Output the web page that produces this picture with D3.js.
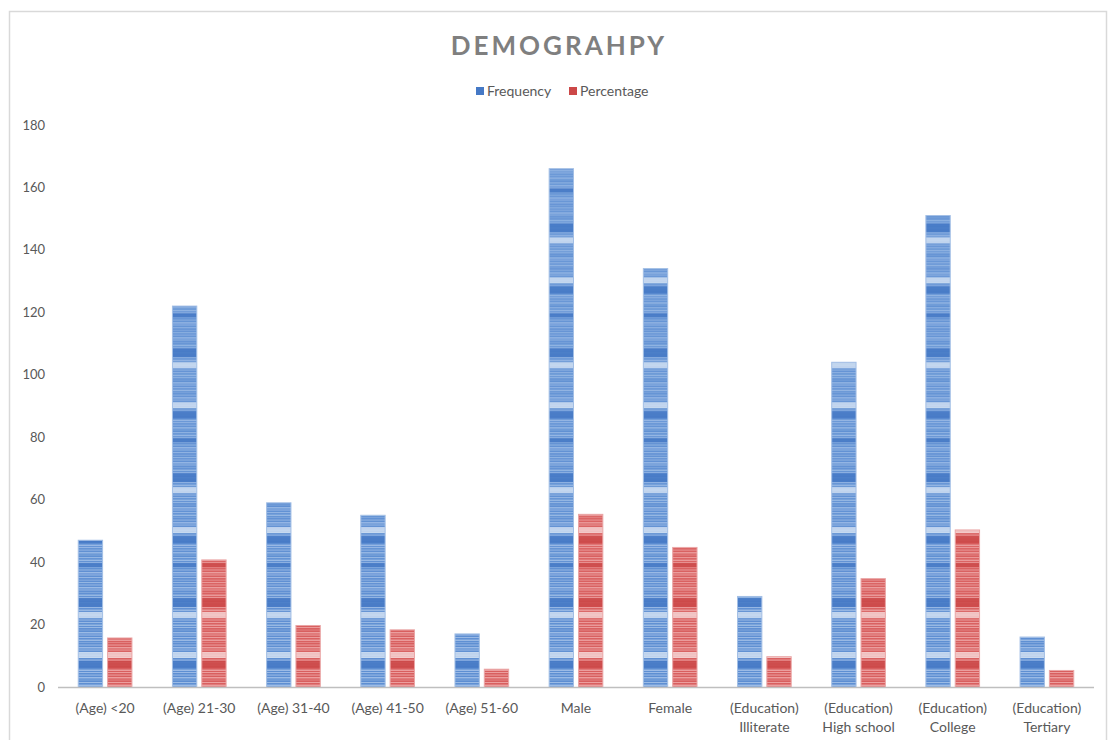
<!DOCTYPE html>
<html>
<head>
<meta charset="utf-8">
<script src="https://cdn.jsdelivr.net/npm/d3@7"></script>
<style>
  html, body { margin: 0; padding: 0; background: #fff; }
  svg { display: block; }
</style>
</head>
<body>
<div id="chart"></div>
<script>
const categories = [
  ['(Age) <20'], ['(Age) 21-30'], ['(Age) 31-40'], ['(Age) 41-50'], ['(Age) 51-60'],
  ['Male'], ['Female'],
  ['(Education)', 'Illiterate'], ['(Education)', 'High school'],
  ['(Education)', 'College'], ['(Education)', 'Tertiary']
];
const frequency  = [47, 122, 59, 55, 17, 166, 134, 29, 104, 151, 16];
const percentage = [15.7, 40.7, 19.7, 18.3, 5.7, 55.3, 44.7, 9.7, 34.7, 50.3, 5.3];
const seriesNames = ['Frequency', 'Percentage'];
const yTicks = [0, 20, 40, 60, 80, 100, 120, 140, 160, 180];

const W = 1109, H = 740;
const font = 'Lato, "Open Sans", sans-serif';
const textCol = '#595959';

const svg = d3.select('#chart').append('svg')
  .attr('width', W).attr('height', H);

// chart border
svg.append('rect')
  .attr('x', 9.5).attr('y', 11.5)
  .attr('width', 1097).attr('height', 760)
  .attr('fill', 'none')
  .attr('stroke', '#d9d9d9')
  .attr('stroke-width', 1.5);

const x0 = d3.scaleBand()
  .domain(d3.range(categories.length))
  .range([58, 1094])
  .paddingInner(0.43)
  .paddingOuter(0.215);

const x1 = d3.scaleBand()
  .domain(seriesNames)
  .range([0, x0.bandwidth()])
  .paddingInner(0.17);

const y = d3.scaleLinear()
  .domain([0, 180])
  .range([687, 125]);

// striped fills, anchored to the baseline, repeating every 40 units
const period = y(0) - y(40);
const defs = svg.append('defs');
const palettes = {
  Frequency:  { base: '#5d8ed2', line: '#aac6ea', dark: '#4579c6', light: '#d6e3f4', edge: '#a3bfe5' },
  Percentage: { base: '#d85e5e', line: '#f0adad', dark: '#cc4848', light: '#f6d8d8', edge: '#eaa6a6' }
};
// bands measured upward from baseline (px)
const bands = [[19, 26, 'dark'], [29, 35, 'light'], [69, 75, 'light'], [80, 89, 'dark'], [120, 124, 'dark']];
seriesNames.forEach(name => {
  const p = palettes[name];
  const pat = defs.append('pattern')
    .attr('id', 'pat-' + name)
    .attr('patternUnits', 'userSpaceOnUse')
    .attr('width', 10).attr('height', period)
    .attr('patternTransform', `translate(0,${y(0)})`);
  pat.append('rect').attr('width', 10).attr('height', period).attr('fill', p.base);
  d3.range(0, period, 2.5).forEach((t, i) => {
    pat.append('rect')
      .attr('y', t).attr('width', 10)
      .attr('height', i % 3 === 1 ? 1.3 : 0.9)
      .attr('fill', p.line)
      .attr('opacity', i % 5 === 2 ? 0.5 : 0.9);
  });
  bands.forEach(([a, b, kind]) => {
    pat.append('rect')
      .attr('y', period - b).attr('width', 10).attr('height', b - a)
      .attr('fill', p[kind]).attr('opacity', kind === 'dark' ? 0.9 : 0.8);
  });
});

// y axis labels (no axis line)
svg.append('g').selectAll('text')
  .data(yTicks)
  .join('text')
  .attr('x', 45)
  .attr('y', d => y(d))
  .attr('dy', '0.35em')
  .attr('text-anchor', 'end')
  .attr('fill', textCol)
  .attr('font-family', font)
  .attr('font-size', 13)
  .text(d => d);

// bars
const groups = svg.append('g').selectAll('g')
  .data(categories.map((c, i) => i))
  .join('g')
  .attr('transform', i => `translate(${x0(i)},0)`);

groups.selectAll('rect')
  .data(i => [
    { key: 'Frequency', value: frequency[i] },
    { key: 'Percentage', value: percentage[i] }
  ])
  .join('rect')
  .attr('x', d => x1(d.key))
  .attr('y', d => y(d.value))
  .attr('width', x1.bandwidth())
  .attr('height', d => y(0) - y(d.value))
  .attr('fill', d => `url(#pat-${d.key})`)
  .attr('stroke', d => palettes[d.key].edge)
  .attr('stroke-width', 1);

// x axis line
svg.append('line')
  .attr('x1', 58).attr('x2', 1094)
  .attr('y1', y(0) + 0.5).attr('y2', y(0) + 0.5)
  .attr('stroke', '#bfbfbf')
  .attr('stroke-width', 1.5);

// category labels
const catLabels = svg.append('g').selectAll('text')
  .data(categories)
  .join('text')
  .attr('x', (d, i) => x0(i) + x0.bandwidth() / 2)
  .attr('y', 713)
  .attr('text-anchor', 'middle')
  .attr('fill', textCol)
  .attr('font-family', font)
  .attr('font-size', 14);
catLabels.selectAll('tspan')
  .data(d => d)
  .join('tspan')
  .attr('x', function () { return this.parentNode.getAttribute('x'); })
  .attr('dy', (d, j) => j === 0 ? 0 : 19)
  .text(d => d);

// title
svg.append('text')
  .attr('x', 559).attr('y', 55)
  .attr('text-anchor', 'middle')
  .attr('fill', '#7f7f7f')
  .attr('font-family', font)
  .attr('font-weight', 'bold')
  .attr('font-size', 26)
  .attr('letter-spacing', 3)
  .text('DEMOGRAHPY');

// legend
const legend = svg.append('g').attr('transform', 'translate(476,91)');
const legendX = [0, 93];
seriesNames.forEach((name, i) => {
  const item = legend.append('g').attr('transform', `translate(${legendX[i]},0)`);
  item.append('rect')
    .attr('x', 0).attr('y', -4).attr('width', 8).attr('height', 8)
    .attr('fill', palettes[name].dark);
  item.append('text')
    .attr('x', 11).attr('y', 0).attr('dy', '0.35em')
    .attr('fill', textCol)
    .attr('font-family', font)
    .attr('font-size', 14)
    .text(name);
});
</script>
</body>
</html>
